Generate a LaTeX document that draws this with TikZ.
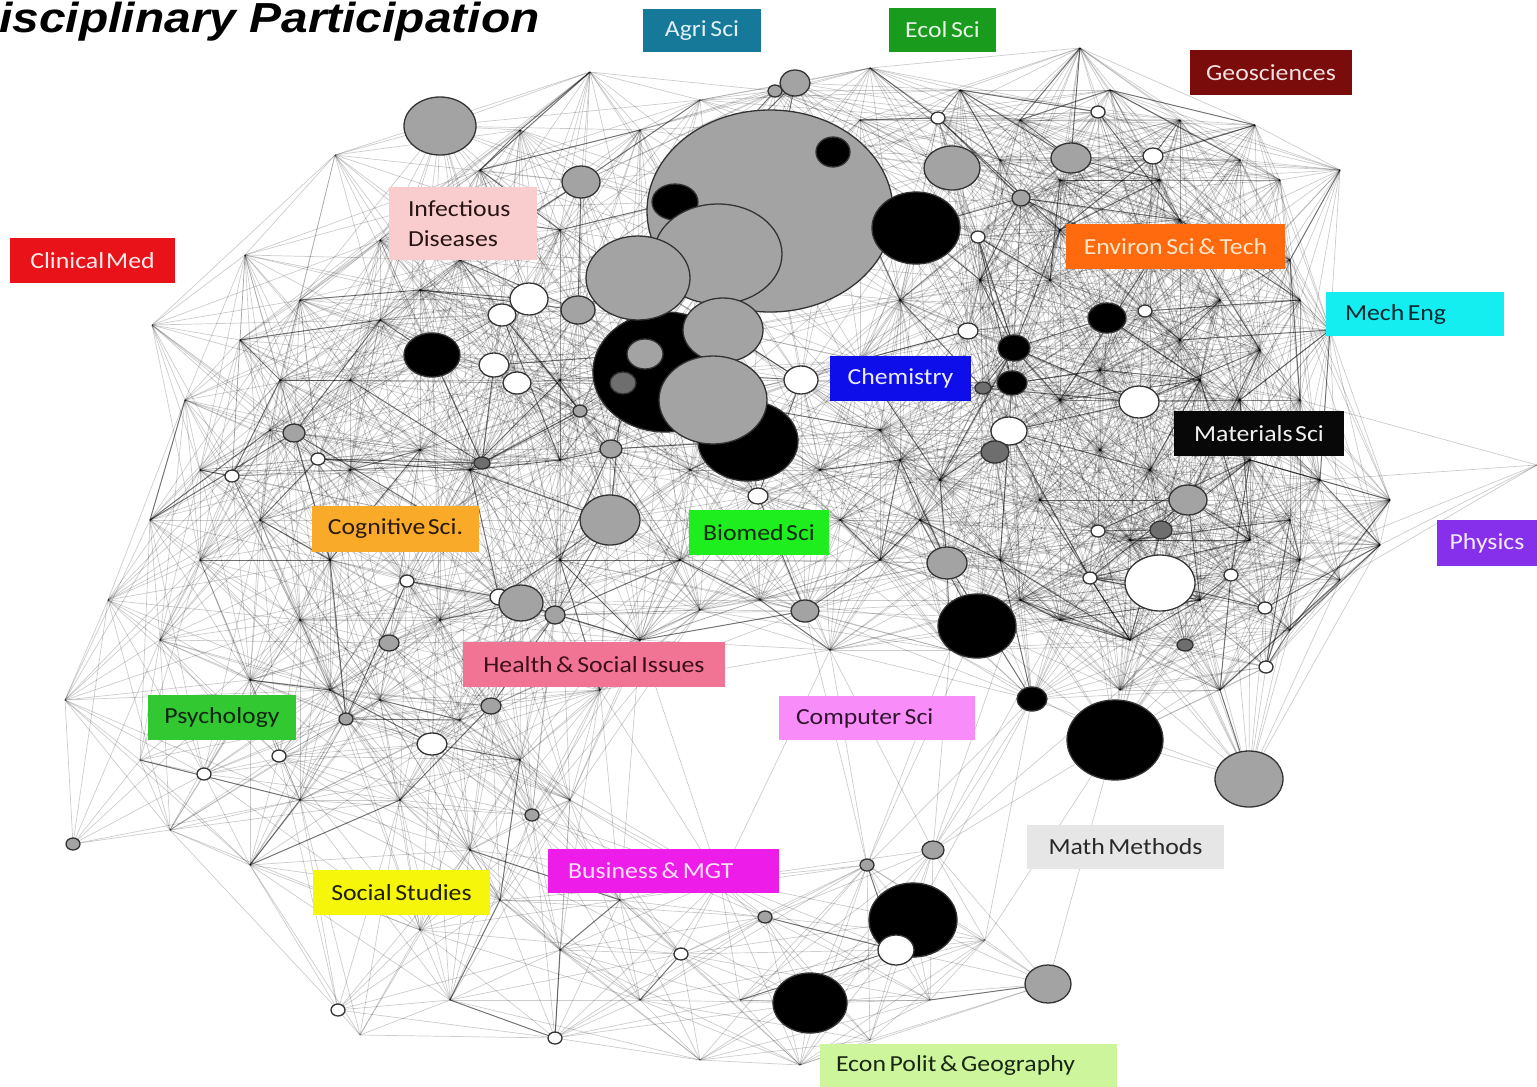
\documentclass[tikz,border=0pt]{standalone}
\usepackage{fontspec}
\setmainfont{Carlito}
\newfontfamily\titlefont{Liberation Sans}
\usepackage{graphicx}
\usetikzlibrary{shapes.geometric}

\definecolor{cG}{RGB}{163,163,163}
\definecolor{cK}{RGB}{0,0,0}
\definecolor{cW}{RGB}{255,255,255}
\definecolor{cD}{RGB}{110,110,110}

\definecolor{fagri}{RGB}{23,121,154}   \definecolor{tagri}{RGB}{225,240,245}
\definecolor{fecol}{RGB}{25,155,30}    \definecolor{tecol}{RGB}{230,245,230}
\definecolor{fgeo}{RGB}{122,12,12}     \definecolor{tgeo}{RGB}{245,225,225}
\definecolor{finf}{RGB}{249,205,205}   \definecolor{tinf}{RGB}{40,20,20}
\definecolor{fclin}{RGB}{232,18,24}    \definecolor{tclin}{RGB}{255,235,235}
\definecolor{fenv}{RGB}{255,106,14}    \definecolor{tenv}{RGB}{255,230,200}
\definecolor{fmech}{RGB}{20,238,240}   \definecolor{tmech}{RGB}{10,40,50}
\definecolor{fchem}{RGB}{14,14,235}    \definecolor{tchem}{RGB}{235,235,255}
\definecolor{fmat}{RGB}{8,8,8}         \definecolor{tmat}{RGB}{240,240,240}
\definecolor{fphys}{RGB}{135,48,235}   \definecolor{tphys}{RGB}{245,235,255}
\definecolor{fcog}{RGB}{248,170,40}    \definecolor{tcog}{RGB}{40,25,10}
\definecolor{fbio}{RGB}{30,238,30}     \definecolor{tbio}{RGB}{15,40,15}
\definecolor{fhea}{RGB}{242,116,148}   \definecolor{thea}{RGB}{60,15,25}
\definecolor{fpsy}{RGB}{50,200,50}     \definecolor{tpsy}{RGB}{15,35,15}
\definecolor{fcomp}{RGB}{248,140,248}  \definecolor{tcomp}{RGB}{50,20,50}
\definecolor{fmath}{RGB}{230,230,230}  \definecolor{tmath}{RGB}{40,40,40}
\definecolor{fbus}{RGB}{238,28,232}    \definecolor{tbus}{RGB}{255,225,255}
\definecolor{fsoc}{RGB}{246,246,10}    \definecolor{tsoc}{RGB}{30,30,10}
\definecolor{fecon}{RGB}{204,245,156}  \definecolor{tecon}{RGB}{25,40,20}

\newcommand\hs[1]{\scalebox{1.12}[1]{\spaceskip=0.14em\relax #1}}
\newcommand\labfont{\fontsize{11.5}{15}\selectfont}

\newcount\nn
\newdimen\dxa
\newdimen\dya
\def\thr{270}
\makeatletter
\def\addpt#1#2{\global\advance\nn by 1\relax
  \expandafter\xdef\csname PX\the\nn\endcsname{#1}%
  \expandafter\xdef\csname PY\the\nn\endcsname{#2}}
\def\tryedge#1#2{%
  \dxa=\csname PX#1\endcsname pt\relax
  \advance\dxa by -\csname PX#2\endcsname pt\relax
  \ifdim\dxa<0pt \dxa=-\dxa\fi
  \ifdim\dxa<\thr pt
    \dya=\csname PY#1\endcsname pt\relax
    \advance\dya by -\csname PY#2\endcsname pt\relax
    \ifdim\dya<0pt \dya=-\dya\fi
    \ifdim\dya<\thr pt
      \pgfmathveclen{\strip@pt\dxa}{\strip@pt\dya}%
      \let\dd\pgfmathresult
      \pgfmathrnd
      \let\rr\pgfmathresult
      \ifdim\dd pt<\thr pt
        \ifdim\rr pt<0.88pt \draw[mesh] (v#1) -- (v#2);\fi
      \fi
      \ifdim\dd pt<170pt
        \ifdim\rr pt<0.13pt \draw[meshdark] (v#1) -- (v#2);\fi
      \fi
    \fi
  \fi}
\makeatother

\def\bubbles{440/126/36/29/cG, 581/182/19/16/cG, 795/83/15/13/cG, 775/91/7/6/cG,
770/211/123/101/cG, 833/152/17/15/cK, 675/202/23/18/cK, 916/228/44/36/cK,
718/254/64/50/cG, 665/372/72/60/cK, 748/441/50/40/cK, 638/278/52/42/cG,
723/330/40/32/cG, 713/400/54/44/cG, 645/354/18/15/cG, 623/383/13/11/cD,
801/380/17/14/cW, 758/496/10/8/cW, 610/520/30/25/cG, 611/449/11/9/cG,
580/411/7/6/cG, 482/463/8/6/cD, 432/355/28/22/cK, 529/299/19/16/cW,
502/315/14/11/cW, 578/310/17/14/cG, 494/365/15/12/cW, 517/383/14/11/cW,
294/433/11/9/cG, 318/459/7/6/cW, 232/476/7/6/cW, 407/581/7/6/cW,
499/597/9/8/cW, 521/603/22/18/cG, 555/615/10/9/cG, 389/643/10/8/cG,
491/706/10/8/cG, 346/719/7/6/cG, 432/744/15/11/cW, 279/756/7/6/cW,
204/774/7/6/cW, 73/844/7/6/cG, 532/815/7/6/cG, 805/611/14/11/cG,
938/118/7/6/cW, 952/168/28/22/cG, 1098/112/7/6/cW, 1071/158/20/15/cG,
1153/156/10/8/cW, 1021/198/9/8/cG, 978/237/7/6/cW, 968/331/10/8/cW,
1107/318/19/15/cK, 1145/311/7/6/cW, 1014/348/16/13/cK, 1012/383/15/12/cK,
983/388/8/6/cD, 1139/402/20/16/cW, 1009/431/18/14/cW, 995/452/14/11/cD,
1188/500/19/15/cG, 1098/531/7/6/cW, 1161/530/11/9/cD, 947/563/20/16/cG,
1160/583/35/28/cW, 1090/578/7/6/cW, 1231/575/7/6/cW, 1265/608/7/6/cW,
1185/645/8/6/cD, 1266/667/7/6/cW, 977/626/39/32/cK, 1032/699/15/12/cK,
1115/740/48/40/cK, 1249/779/34/28/cG, 933/850/11/9/cG, 867/865/7/6/cG,
913/920/44/37/cK, 896/950/18/15/cW, 1048/984/23/19/cG, 810/1003/37/30/cK,
765/917/7/6/cG, 681/954/7/6/cW, 338/1010/7/6/cW, 555/1038/7/6/cW}

\def\hidden{335/155, 245/255, 152/325, 185/400, 240/340, 300/300, 380/240, 480/170,
410/210, 520/130, 590/72, 640/130, 700/100, 870/68, 960/90, 1000/160, 1080/48,
1180/120, 1255/125, 1340/170, 1230/230, 1290/260, 1330/330, 1300/400, 1220/300,
1150/260, 1050/280, 900/300, 1200/380, 1250/460, 1320/480, 1390/500, 1537/465,
1380/545, 1340/580, 1290/520, 1250/540, 1290/630, 1220/690, 1130/640, 1060/620,
1000/560, 1040/500, 940/480, 880/430, 820/470, 840/520, 880/560, 950/650,
760/600, 830/650, 700/610, 680/560, 690/470, 560/460, 470/470, 420/450, 440/520,
350/470, 350/380, 270/430, 260/520, 200/560, 108/600, 160/640, 65/700, 330/560,
330/690, 250/680, 440/620, 560/560, 600/690, 640/640, 520/760, 400/800, 300/800,
170/830, 250/865, 470/850, 570/800, 620/900, 500/900, 420/930, 450/1000, 360/1035,
560/950, 640/1000, 700/1060, 740/1000, 800/1065, 870/1040, 930/1000, 985/940,
720/880, 140/760,
1160/180, 1280/180, 1110/90, 1020/120, 1100/450, 1150/470, 1060/400, 1180/340,
1260/350, 920/520, 1120/690, 1200/600, 1300/560, 560/230, 460/260, 380/320,
420/290, 280/380, 200/470, 150/520, 860/360, 1060/230, 1240/400, 1300/300,
980/280, 560/380, 300/620, 380/700, 460/720,
1180/220, 1100/370, 900/460, 860/120, 1240/160, 1130/540, 1020/600, 1060/180}

\tikzset{
  mesh/.style={draw=black, opacity=0.2, line width=0.35pt},
  meshdark/.style={draw=black, opacity=0.45, line width=0.5pt},
  bub/.style={ellipse, inner sep=0pt, outer sep=0pt, draw=black!80, line width=0.65pt},
  lab/.style={rectangle, inner sep=0pt, outer sep=0pt, font=\labfont, align=center},
  labl/.style={rectangle, inner ysep=0pt, outer sep=0pt, font=\labfont, align=left},
}

\begin{document}
\begin{tikzpicture}[x=0.5pt, y=-0.5pt]
\fill[white] (0,0) rectangle (1537,1087);
\useasboundingbox (0,0) rectangle (1537,1087);

% register vertices
\foreach \x/\y/\a/\b/\s in \bubbles {\addpt{\x}{\y}\edef\k{\the\nn}\coordinate (v\k) at (\x,\y);}
\foreach \x/\y in \hidden {\addpt{\x}{\y}\edef\k{\the\nn}\coordinate (v\k) at (\x,\y);}
\xdef\NN{\the\nn}

% mesh of connectors
\pgfmathsetseed{12}
\foreach \i in {1,...,\NN}{\foreach \j in {\i,...,\NN}{\ifnum\j>\i\relax\tryedge{\i}{\j}\fi}}

% bubbles
\foreach \x/\y/\a/\b/\s [count=\c] in \bubbles {
  \node[bub, fill=\s, minimum width=\a pt, minimum height=\b pt] (b\c) at (\x,\y) {};
}

% labels
\node[lab, fill=fagri, text=tagri, minimum width=59pt, minimum height=21.5pt] (agri) at (702,30.5) {\hs{Agri Sci}};
\node[lab, fill=fecol, text=tecol, minimum width=53.5pt, minimum height=22pt] (ecol) at (942.5,30) {\hs{Ecol Sci}};
\node[lab, fill=fgeo, text=tgeo, minimum width=81pt, minimum height=22.5pt] (geo) at (1271,72.5) {\hs{Geosciences}};
\node[labl, fill=finf, text=tinf, text width=55pt, inner xsep=9.5pt, minimum height=36.5pt] (inf) at (463,223.5) {\hs{Infectious}\\\hs{Diseases}};
\node[lab, fill=fclin, text=tclin, minimum width=82.5pt, minimum height=22.5pt] (clin) at (92.5,260.5) {\hs{Clinical\kern0.08em Med}};
\node[lab, fill=fenv, text=tenv, minimum width=109.5pt, minimum height=22.5pt] (env) at (1175.5,246.5) {\hs{Environ Sci \& Tech}};
\node[labl, fill=fmech, text=tmech, text width=70pt, inner xsep=9.5pt, minimum height=22pt] (mech) at (1415,314) {\hs{Mech Eng}};
\node[lab, fill=fchem, text=tchem, minimum width=70.5pt, minimum height=22.5pt] (chem) at (900.5,378.5) {\hs{Chemistry}};
\node[lab, fill=fmat, text=tmat, minimum width=85pt, minimum height=22.5pt] (mat) at (1259,433.5) {\hs{Materials\kern0.1em Sci}};
\node[lab, fill=fphys, text=tphys, minimum width=50pt, minimum height=23pt] (phys) at (1487,543) {\hs{Physics}};
\node[lab, fill=fcog, text=tcog, minimum width=83.5pt, minimum height=23pt] (cog) at (395.5,529) {\hs{Cognitive\kern0.1em Sci.}};
\node[lab, fill=fbio, text=tbio, minimum width=70pt, minimum height=22.5pt] (bio) at (759,532.5) {\hs{Biomed\kern0.1em Sci}};
\node[lab, fill=fhea, text=thea, minimum width=131pt, minimum height=22.5pt] (hea) at (594,664.5) {\hs{Health \& Social Issues}};
\node[lab, fill=fpsy, text=tpsy, minimum width=74pt, minimum height=22.5pt] (psy) at (222,717.5) {\hs{Psychology}};
\node[labl, fill=fcomp, text=tcomp, text width=81pt, inner xsep=8.5pt, minimum height=22pt] (comp) at (877,718) {\hs{Computer Sci}};
\node[lab, fill=fmath, text=tmath, minimum width=98.5pt, minimum height=22pt] (math) at (1125.5,847) {\hs{Math Methods}};
\node[labl, fill=fbus, text=tbus, text width=95.5pt, inner xsep=10pt, minimum height=22pt] (bus) at (663.5,871) {\hs{Business \& MGT}};
\node[lab, fill=fsoc, text=tsoc, minimum width=88.5pt, minimum height=22.5pt] (soc) at (401.5,892.5) {\hs{Social Studies}};
\node[labl, fill=fecon, text=tecon, text width=132.5pt, inner xsep=8pt, minimum height=21.5pt] (econ) at (968.5,1065.5) {\hs{Econ Polit \& Geography}};

% title
\node[anchor=base west, inner sep=0pt] (title) at (-1,32) {\scalebox{1.14}[1]{\titlefont\bfseries\itshape\fontsize{21}{24}\selectfont isciplinary Participation}};
\end{tikzpicture}
\end{document}
